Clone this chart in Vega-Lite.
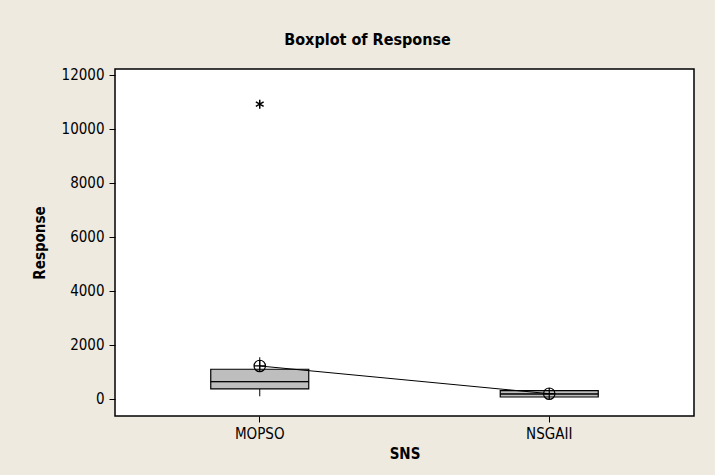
{
  "$schema": "https://vega.github.io/schema/vega-lite/v6.json",
  "autosize": {"type": "none"},
  "width": 579,
  "height": 347,
  "padding": {"left": 115, "top": 69, "right": 21, "bottom": 59},
  "background": "#EEEAE0",
  "config": {
    "view": {"fill": "white", "stroke": "black", "strokeWidth": 1.5},
    "font": "DejaVu Sans Condensed",
    "axis": {"labelFont": "DejaVu Sans Condensed", "titleFont": "DejaVu Sans Condensed", "labelColor": "black", "titleColor": "black", "tickColor": "black", "domain": false, "grid": false}
  },
  "title": {"text": "Boxplot of Response", "font": "DejaVu Sans Condensed", "fontSize": 16, "fontWeight": "bold", "color": "black", "offset": 20, "dx": -37, "anchor": "middle"},
  "datasets": {
    "summary": [
      {"SNS": "MOPSO", "lower": 100, "q1": 371, "median": 641, "q3": 1101, "upper": 1546, "mean": 1223},
      {"SNS": "NSGAII", "lower": 60, "q1": 74, "median": 185, "q3": 308, "upper": 330, "mean": 196}
    ],
    "outliers": [
      {"SNS": "MOPSO", "value": 10920}
    ]
  },
  "data": {"name": "summary"},
  "encoding": {
    "x": {"field": "SNS", "type": "nominal", "scale": {"paddingInner": 0, "paddingOuter": 0},
      "axis": {"title": "SNS", "labelAngle": 0, "labelFontSize": 15, "titleFontSize": 15, "titleFontWeight": "bold", "tickSize": 6, "labelPadding": 4, "titlePadding": 5}}
  },
  "layer": [
    {
      "mark": {"type": "rule", "color": "black", "strokeWidth": 1},
      "encoding": {
        "y": {"field": "lower", "type": "quantitative", "scale": {"domain": [-630, 12222], "nice": false, "zero": false},
          "axis": {"title": "Response", "format": "d", "values": [0, 2000, 4000, 6000, 8000, 10000, 12000], "labelFontSize": 15, "titleFontSize": 15, "titleFontWeight": "bold", "tickSize": 6, "labelPadding": 5, "titlePadding": 14}},
        "y2": {"field": "upper"}
      }
    },
    {
      "mark": {"type": "bar", "size": 98, "fill": "#BEBEBE", "stroke": "black", "strokeWidth": 1.2},
      "encoding": {
        "y": {"field": "q1", "type": "quantitative"},
        "y2": {"field": "q3"}
      }
    },
    {
      "mark": {"type": "bar", "size": 98, "fill": "black", "stroke": "black", "strokeWidth": 1},
      "encoding": {
        "y": {"field": "median", "type": "quantitative"},
        "y2": {"field": "median"}
      }
    },
    {
      "mark": {"type": "line", "color": "black", "strokeWidth": 1},
      "encoding": {
        "y": {"field": "mean", "type": "quantitative"}
      }
    },
    {
      "mark": {"type": "point", "shape": "M1,0A1,1 0 1,1 -1,0A1,1 0 1,1 1,0M-1,0L1,0M0,-1L0,1", "size": 130, "filled": false, "stroke": "black", "strokeWidth": 1.2, "opacity": 1},
      "encoding": {
        "y": {"field": "mean", "type": "quantitative"}
      }
    },
    {
      "data": {"name": "outliers"},
      "mark": {"type": "point", "shape": "M0,-1L0,1M-0.87,-0.5L0.87,0.5M-0.87,0.5L0.87,-0.5", "size": 80, "filled": false, "stroke": "black", "strokeWidth": 1.5, "opacity": 1},
      "encoding": {
        "y": {"field": "value", "type": "quantitative"}
      }
    }
  ]
}
